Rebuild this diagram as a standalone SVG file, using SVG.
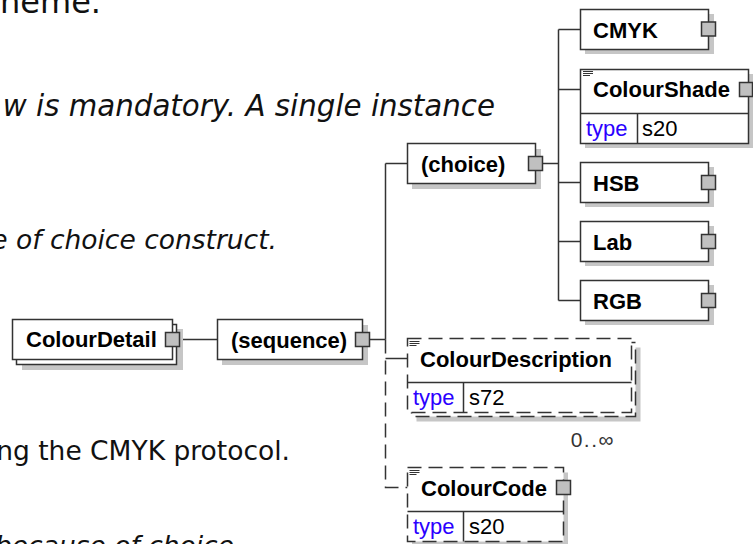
<svg xmlns="http://www.w3.org/2000/svg" width="753" height="544" viewBox="0 0 753 544">
<defs>
<style>
.bg{fill:#fff}
.box{fill:#fff;stroke:#333;stroke-width:1.5}
.opt{stroke-dasharray:14,7}
.sh{fill:#c6c6c6}
.sq{fill:#c0c0c0;stroke:#333;stroke-width:1.5}
.ln{fill:none;stroke:#333;stroke-width:1.5}
.dash{stroke-dasharray:14,7}
.doc{fill:none;stroke:#333;stroke-width:1.2}
.name{font-family:"Liberation Sans",Arial,sans-serif;font-weight:bold;font-size:22px;fill:#000}
.type{font-family:"Liberation Sans",Arial,sans-serif;font-size:22px;fill:#2b00ff}
.val{font-family:"Liberation Sans",Arial,sans-serif;font-size:22px;fill:#000}
.occ{font-family:"Liberation Sans",Arial,sans-serif;font-size:21px;letter-spacing:1.5px;fill:#333}
.body{font-family:"DejaVu Sans",Verdana,sans-serif;font-size:26.5px;fill:#111}
.big{font-size:32px}
.mid{font-size:29.3px}
.it{font-style:italic}
</style>
</defs>
<rect class="bg" x="0" y="0" width="753" height="544"/>

<g id="background-text">
<text class="body big" x="101" y="13" text-anchor="end">heme.</text>
<text class="body it mid" x="495" y="116" text-anchor="end">w is mandatory. A single instance</text>
<text class="body it" x="277" y="249" text-anchor="end">e of choice construct.</text>
<text class="body" x="290" y="460" text-anchor="end">ng the CMYK protocol.</text>
<text class="body it" x="234" y="555" text-anchor="end">because of choice</text>
</g>

<g id="connectors">
<path class="ln" d="M179.5 339.5H217.5"/>
<path class="ln" d="M369.5 339.5H385.5"/>
<path class="ln" d="M385.5 163.5V339.5"/>
<path class="ln" d="M385.5 163.5H407.5"/>
<path class="ln dash" d="M385.5 339.5V487.5H407.5"/>
<path class="ln" d="M385.5 358.5H407.5"/>
<path class="ln" d="M542.5 163.5H558.5"/>
<path class="ln" d="M558.5 29.5V300.5"/>
<path class="ln" d="M558.5 29.5H580.5M558.5 89.5H580.5M558.5 182.5H580.5M558.5 241.5H580.5M558.5 300.5H580.5"/>
</g>

<g id="ColourDetail">
<rect class="sh" x="22" y="329" width="161" height="41"/>
<rect class="box" x="16.5" y="324.5" width="160" height="40"/>
<rect class="box" x="12.5" y="319.5" width="160" height="40"/>
<text class="name" x="26" y="347">ColourDetail</text>
<rect class="sq" x="165.5" y="332.5" width="14" height="14"/>
</g>

<g id="sequence">
<rect class="sh" x="222" y="325" width="146" height="40"/>
<rect class="box" x="217.5" y="319.5" width="145" height="40"/>
<text class="name" x="231" y="347.5">(sequence)</text>
<rect class="sq" x="355.5" y="332.5" width="14" height="14"/>
</g>

<g id="choice">
<rect class="sh" x="412" y="149" width="129" height="40"/>
<rect class="box" x="407.5" y="143.5" width="128" height="40"/>
<text class="name" x="421" y="171.5">(choice)</text>
<rect class="sq" x="528.5" y="156.5" width="14" height="14"/>
</g>

<g id="CMYK">
<rect class="sh" x="585" y="14" width="129" height="40"/>
<rect class="box" x="580.5" y="9.5" width="128" height="40"/>
<text class="name" x="593" y="38">CMYK</text>
<rect class="sq" x="701.5" y="22" width="14" height="14"/>
</g>

<g id="ColourShade">
<rect class="sh" x="585" y="74" width="169" height="74"/>
<rect class="box" x="580.5" y="69.5" width="168" height="74"/>
<path class="ln" d="M580.5 113.5H748.5M637.5 113.5V143.5"/>
<path class="doc" d="M583 71.5h10M583 73.5h10M583 75.5h7"/>
<text class="name" x="593" y="97">ColourShade</text>
<text class="type" x="586" y="135.5">type</text>
<text class="val" x="642" y="135.5">s20</text>
<rect class="sq" x="739.5" y="82.5" width="13" height="14"/>
</g>

<g id="HSB">
<rect class="sh" x="585" y="167" width="129" height="40"/>
<rect class="box" x="580.5" y="162.5" width="128" height="40"/>
<text class="name" x="593" y="190.5">HSB</text>
<rect class="sq" x="701.5" y="175.5" width="14" height="14"/>
</g>

<g id="Lab">
<rect class="sh" x="585" y="226" width="129" height="40"/>
<rect class="box" x="580.5" y="221.5" width="128" height="40"/>
<text class="name" x="593" y="249.5">Lab</text>
<rect class="sq" x="701.5" y="234.5" width="14" height="14"/>
</g>

<g id="RGB">
<rect class="sh" x="585" y="285" width="129" height="40"/>
<rect class="box" x="580.5" y="280.5" width="128" height="40"/>
<text class="name" x="593" y="308.5">RGB</text>
<rect class="sq" x="701.5" y="293.5" width="14" height="14"/>
</g>

<g id="ColourDescription">
<rect class="sh" x="416.5" y="347.5" width="224" height="74"/>
<rect class="box opt" x="411.5" y="342.5" width="224" height="74"/>
<rect class="box opt" x="407.5" y="338.5" width="224" height="74"/>
<path class="ln" d="M407.5 382.5H631.5M463.5 382.5V412.5"/>
<path class="doc" d="M409.5 341.5h10M409.5 343.5h10M409.5 345.5h7"/>
<text class="name" x="420" y="367">ColourDescription</text>
<text class="type" x="413" y="404.5">type</text>
<text class="val" x="469" y="404.5">s72</text>
<text class="occ" x="615" y="447" text-anchor="end">0..∞</text>
</g>

<g id="ColourCode">
<rect class="sh" x="412" y="472.5" width="156" height="74"/>
<rect class="box opt" x="407.5" y="467.5" width="156" height="74"/>
<path class="ln" d="M407.5 511.5H563.5M463.5 511.5V541.5"/>
<path class="doc" d="M409.5 470.5h10M409.5 472.5h10M409.5 474.5h7"/>
<text class="name" x="421" y="496">ColourCode</text>
<text class="type" x="413" y="533.5">type</text>
<text class="val" x="469" y="533.5">s20</text>
<rect class="sq" x="556.5" y="480.5" width="14" height="14"/>
</g>
</svg>
